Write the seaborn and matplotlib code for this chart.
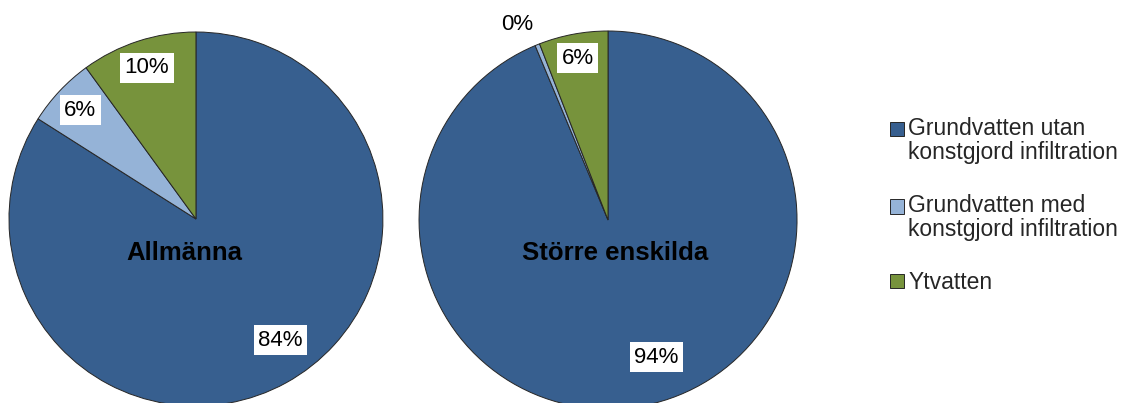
import matplotlib
matplotlib.use("Agg")
import matplotlib.pyplot as plt
import matplotlib.patches as mpatches
from matplotlib.legend_handler import HandlerPatch
import numpy as np
import seaborn as sns

# data
categories = ["Grundvatten utan\nkonstgjord infiltration",
              "Grundvatten med\nkonstgjord infiltration",
              "Ytvatten"]
allmanna = [84.0, 6.0, 10.0]
storre   = [93.7, 0.4, 5.9]
pie_titles = ["Allmänna", "Större enskilda"]

sns.set_theme(style="white")
plt.rcParams['font.family'] = ['Liberation Sans', 'DejaVu Sans']

colors = sns.color_palette(['#375F8F', '#95B3D7', '#77933C'])
edge = '#262626'

fig = plt.figure(figsize=(11.21, 4.03), dpi=100)

# axes boxes in figure fractions (pie centre/radius measured in pixels)
ax1 = fig.add_axes([0.008, -0.0074, 0.3336, 0.928])
ax2 = fig.add_axes([0.3738, -0.0149, 0.3372, 0.938])

# label placement: radius fraction and angle nudge (deg) per slice
label_dist = [[0.79, 0.85, 0.85], [0.77, 1.14, 0.87]]
label_rot = [[6, 0, 0], [8, 3, 0]]
title_off = [(-0.06, -0.18), (0.04, -0.175)]

for ax, vals, title, dists, rots, toff in zip([ax1, ax2], [allmanna, storre],
                                              pie_titles, label_dist, label_rot,
                                              title_off):
    wedges, _ = ax.pie(vals, colors=colors, startangle=90, counterclock=False,
                       radius=1.0,
                       wedgeprops=dict(edgecolor=edge, linewidth=0.7))
    ax.set_xlim(-1, 1)
    ax.set_ylim(-1, 1)
    ax.set_aspect('equal')
    ax.axis('off')
    for w, v, d, r in zip(wedges, vals, dists, rots):
        ang = np.deg2rad((w.theta1 + w.theta2) / 2 + r)
        x, y = d * np.cos(ang), d * np.sin(ang)
        box = dict(boxstyle='square,pad=0.2', facecolor='white', edgecolor='none') if d < 1 else None
        ax.text(x, y, f"{v:.0f}%", ha='center', va='center', fontsize=16,
                color='black', bbox=box, clip_on=False)
    ax.text(toff[0], toff[1], title, ha='center', va='center',
            fontsize=18.5, fontweight='bold', color='black')

# legend, marker aligned to first line like the original
fs = 16.5
lsp = 1.05
handles = [mpatches.Patch(facecolor=c, edgecolor=edge, linewidth=0.7, label=l)
           for c, l in zip(colors, categories)]

def make_handler(multiline):
    shift = 0.5 * lsp * fs if multiline else 0.0
    def f(legend, orig_handle, xdescent, ydescent, width, height, fontsize):
        return mpatches.Rectangle((-xdescent, -ydescent + shift), width, height)
    return HandlerPatch(patch_func=f)

hmap = {h: make_handler("\n" in l) for h, l in zip(handles, categories)}
leg = fig.legend(handles=handles, labels=categories, handler_map=hmap,
                 loc='center left', bbox_to_anchor=(0.794, 0.49),
                 frameon=False, fontsize=fs, handlelength=0.6, handleheight=0.6,
                 handletextpad=0.2, labelspacing=1.32, borderpad=0,
                 borderaxespad=0)
for t in leg.get_texts():
    t.set_linespacing(lsp)

fig.savefig('out.png', dpi=100)
